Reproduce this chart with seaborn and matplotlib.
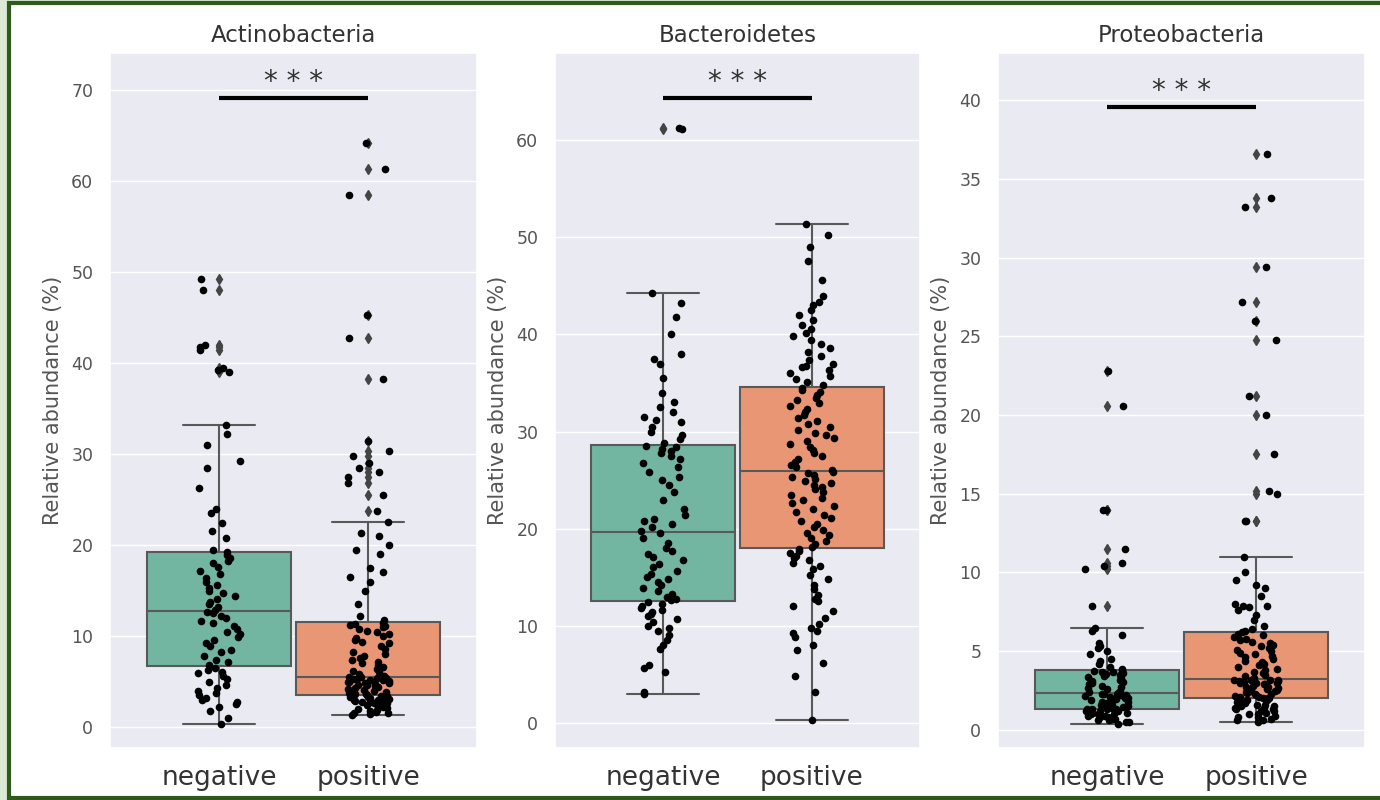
import numpy as np
import pandas as pd
import seaborn as sns
import matplotlib.pyplot as plt
from matplotlib.patches import Rectangle

sns.set_theme(style="darkgrid")
plt.rcParams['font.family'] = ['DejaVu Sans']

groups = ["negative", "positive"]
colors = ["#66c2a5", "#fc8d62"]

# Actinobacteria (%)
actino_neg = [0.3, 1.0, 1.8, 2.2, 2.5, 2.8, 3.0, 3.2, 3.5, 3.8, 4.0, 4.3, 4.6, 5.0, 5.3, 5.6, 5.9, 6.1, 6.3, 6.5,
              6.8, 7.1, 7.4, 7.8, 8.2, 8.5, 8.9, 9.2, 9.6, 9.9, 10.2, 10.5, 10.8, 11.1, 11.4, 11.7, 12.0, 12.2, 12.5, 12.7,
              12.9, 13.2, 13.5, 13.8, 14.1, 14.4, 14.7, 15.0, 15.3, 15.6, 16.0, 16.4, 16.8, 17.2, 17.6, 18.0, 18.3, 18.6, 18.9, 19.2,
              19.5, 20.8, 21.5, 22.4, 23.5, 24.0, 26.3, 28.5, 29.3, 31.0, 32.2, 33.2,
              39.0, 39.3, 39.5, 41.5, 41.8, 42.0, 48.0, 49.3]
actino_pos = [1.3, 1.4, 1.5, 1.6, 1.7, 1.8, 1.9, 2.0, 2.1, 2.2, 2.3, 2.4, 2.4, 2.5, 2.6, 2.6, 2.7, 2.8, 2.8, 2.9,
              3.0, 3.0, 3.1, 3.1, 3.2, 3.2, 3.3, 3.3, 3.4, 3.4,
              3.5, 3.6, 3.6, 3.7, 3.8, 3.9, 4.0, 4.0, 4.1, 4.2, 4.3, 4.4, 4.5, 4.6, 4.6, 4.7, 4.8, 4.9, 5.0, 5.0,
              5.1, 5.1, 5.2, 5.2, 5.3, 5.3, 5.4, 5.4, 5.5, 5.5,
              5.6, 5.8, 6.0, 6.2, 6.4, 6.6, 6.8, 7.0, 7.2, 7.4, 7.6, 7.8, 8.0, 8.3, 8.6, 8.9, 9.2, 9.4, 9.6, 9.8,
              10.0, 10.2, 10.4, 10.6, 10.8, 11.0, 11.1, 11.2, 11.3, 11.4,
              11.8, 12.2, 13.5, 15.0, 16.0, 16.5, 17.0, 17.5, 19.0, 19.5, 20.0, 21.0, 21.3, 22.5,
              23.8, 25.5, 26.8, 27.5, 28.0, 28.5, 29.0, 29.8, 30.3, 31.5, 38.3, 42.8, 45.3, 58.5, 61.3, 64.2]

# Bacteroidetes (%)
bacter_neg = [3.0, 3.2, 5.2, 5.6, 5.9, 7.6, 8.0, 8.5, 9.0, 9.5, 9.8, 10.0, 10.4, 10.7, 11.0, 11.2, 11.4, 11.6, 11.8, 12.0, 12.2, 12.4,
              12.6, 12.8, 13.0, 13.3, 13.6, 13.9, 14.2, 14.5, 14.8, 15.0, 15.3, 15.6, 16.0, 16.4, 16.8, 17.1, 17.4, 17.7, 18.0, 18.5, 19.0, 19.5,
              19.8, 20.2, 20.5, 20.8, 21.0, 21.4, 22.0, 23.0, 23.8, 24.5, 25.0, 25.3, 25.8, 26.4, 26.8, 27.2, 27.5, 27.8, 28.0, 28.2, 28.4, 28.5,
              28.8, 29.2, 29.6, 30.0, 30.5, 31.0, 31.2, 31.5, 32.0, 32.5, 33.0, 34.0, 35.5, 37.0, 37.5, 38.0, 40.0, 41.8, 43.2, 44.3,
              61.2, 61.3]
bacter_pos = [0.3, 3.2, 4.8, 6.2, 7.5, 8.0, 8.8, 9.2, 9.5, 9.8, 10.2, 10.8, 11.5, 12.0, 12.5, 12.8, 13.2, 13.8, 14.2, 14.8,
              15.2, 15.8, 16.2, 16.5, 16.8, 17.0, 17.2, 17.5, 17.7, 17.9,
              18.1, 18.4, 18.7, 19.0, 19.3, 19.6, 19.9, 20.2, 20.5, 20.8, 21.1, 21.4, 21.7, 22.0, 22.3, 22.6, 22.9, 23.2, 23.5, 23.8,
              24.1, 24.3, 24.5, 24.7, 24.9, 25.1, 25.3, 25.5, 25.7, 25.8,
              26.0, 26.3, 26.6, 26.9, 27.2, 27.5, 27.8, 28.1, 28.4, 28.7, 29.0, 29.3, 29.6, 29.9, 30.2, 30.5, 30.8, 31.1, 31.4, 31.7,
              32.0, 32.3, 32.6, 32.9, 33.2, 33.5, 33.8, 34.1, 34.3, 34.5,
              34.8, 35.1, 35.4, 35.7, 36.0, 36.3, 36.6, 36.8, 37.0, 37.4, 37.8, 38.2, 38.6, 39.0, 39.4, 39.8, 40.2, 40.6, 41.0, 41.5,
              42.0, 42.5, 43.0, 43.3, 44.0, 45.6, 47.6, 49.0, 50.3, 51.4]

# Proteobacteria (%)
proteo_neg = [0.4, 0.5, 0.5, 0.6, 0.6, 0.7, 0.7, 0.8, 0.8, 0.9, 0.9, 1.0, 1.0, 1.0, 1.1, 1.1, 1.2, 1.2, 1.2, 1.3, 1.3, 1.3,
              1.35, 1.4, 1.45, 1.5, 1.55, 1.6, 1.65, 1.7, 1.75, 1.8, 1.85, 1.9, 1.95, 2.0, 2.05, 2.1, 2.15, 2.2, 2.22, 2.25, 2.28, 2.3,
              2.35, 2.4, 2.5, 2.6, 2.65, 2.7, 2.8, 2.9, 3.0, 3.05, 3.1, 3.2, 3.3, 3.35, 3.4, 3.5, 3.55, 3.6, 3.65, 3.7, 3.75, 3.8,
              3.9, 4.0, 4.2, 4.4, 4.5, 4.8, 5.0, 5.2, 5.3, 5.5, 6.0, 6.3, 6.5,
              7.9, 10.2, 10.4, 10.6, 11.5, 14.0, 14.0, 20.6, 22.8]
proteo_pos = [0.5, 0.6, 0.6, 0.7, 0.8, 0.8, 0.9, 1.0, 1.0, 1.1, 1.2, 1.2, 1.3, 1.3, 1.4, 1.4, 1.5, 1.5, 1.6, 1.6,
              1.7, 1.7, 1.8, 1.8, 1.85, 1.9, 1.9, 1.95, 2.0, 2.0,
              2.05, 2.1, 2.1, 2.15, 2.2, 2.25, 2.3, 2.35, 2.4, 2.45, 2.5, 2.55, 2.6, 2.65, 2.7, 2.75, 2.8, 2.85, 2.9, 2.9,
              2.95, 3.0, 3.0, 3.05, 3.1, 3.1, 3.15, 3.15, 3.2, 3.2,
              3.3, 3.4, 3.5, 3.6, 3.7, 3.8, 3.9, 4.0, 4.1, 4.2, 4.3, 4.4, 4.5, 4.6, 4.7, 4.8, 4.9, 5.0, 5.1, 5.2,
              5.3, 5.4, 5.5, 5.6, 5.7, 5.8, 5.9, 6.0, 6.1, 6.2,
              6.3, 6.4, 6.6, 7.0, 7.3, 7.6, 7.8, 7.9, 7.9, 8.0, 8.5, 9.0, 9.2, 9.5, 10.0, 11.0,
              13.3, 13.3, 15.0, 15.2, 17.5, 20.0, 21.2, 24.8, 26.0, 27.2, 29.4, 33.2, 33.8, 36.6]

titles = ["Actinobacteria", "Bacteroidetes", "Proteobacteria"]
yticks = [range(0, 71, 10), range(0, 61, 10), range(0, 41, 5)]
ylims = [(-2.3, 74.1), (-2.6, 69.0), (-1.15, 43.0)]
sig_y = [69.2, 64.4, 39.55]
sig_text = [70.9, 66.0, 40.6]

panels = [(actino_neg, actino_pos), (bacter_neg, bacter_pos), (proteo_neg, proteo_pos)]

W, H = 1380, 800
fig = plt.figure(figsize=(W / 100, H / 100), dpi=100, facecolor="#dce9d5")
fig.patches.append(Rectangle((9 / W, 2 / H), 1.1, (H - 4.5) / H, transform=fig.transFigure,
                             facecolor="white", edgecolor="#2e5a1c", linewidth=3, zorder=-10))

lefts = [110, 555, 998]
rights = [477, 920, 1365]
top, bottom = 53, 748

np.random.seed(3)
for i, (neg, pos) in enumerate(panels):
    ax = fig.add_axes([lefts[i] / W, (H - bottom) / H, (rights[i] - lefts[i]) / W, (bottom - top) / H])
    df = pd.DataFrame({"group": ["negative"] * len(neg) + ["positive"] * len(pos),
                       "value": neg + pos})
    sns.boxplot(data=df, x="group", y="value", hue="group", palette=colors, order=groups,
                width=0.97, linewidth=1.5, legend=False, ax=ax,
                flierprops=dict(marker="d", markersize=5, markerfacecolor="#444444",
                                markeredgecolor="#444444"))
    sns.stripplot(data=df, x="group", y="value", order=groups, color="black", size=5.5,
                  jitter=0.15, ax=ax, zorder=3)
    ax.plot([0, 1], [sig_y[i], sig_y[i]], color="black", lw=3, solid_capstyle="butt")
    ax.text(0.5, sig_text[i], "* * *", ha="center", va="center", fontsize=20,
            color="#333333")
    ax.set_xlim(-0.73, 1.73)
    ax.set_ylim(*ylims[i])
    ax.set_yticks(list(yticks[i]))
    ax.set_title(titles[i], fontsize=16.5, color="#333333", pad=8)
    ax.set_xlabel("")
    ax.set_ylabel("Relative abundance (%)", fontsize=15, color="#555555", labelpad=6)
    ax.tick_params(axis="y", labelsize=12.5, labelcolor="#555555", pad=6)
    ax.tick_params(axis="x", labelsize=19, labelcolor="#333333", pad=6)

fig.savefig("out.png", dpi=100, facecolor=fig.get_facecolor())
